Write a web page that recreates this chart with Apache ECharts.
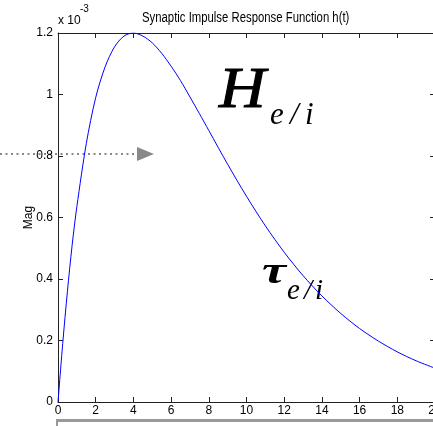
<!DOCTYPE html>
<html><head><meta charset="utf-8">
<script src="https://cdn.jsdelivr.net/npm/echarts@6/dist/echarts.min.js"></script>
<style>html,body{margin:0;padding:0;background:#fff}#c{width:433px;height:426px}</style>
</head><body><div id="c"></div>
<script>
// time (x axis)
const timeValues = [0, 0.25, 0.5, 0.75, 1, 1.5, 2, 2.5, 3, 3.5, 4, 4.5, 5, 5.5, 6, 6.5, 7, 7.5, 8, 9, 10, 11, 12, 13, 14, 15, 16, 17, 18, 19, 20];
// magnitude, in units of 1e-3
const magValues = [0, 0.19, 0.36, 0.51, 0.635, 0.84, 0.99, 1.09, 1.155, 1.19, 1.2, 1.19, 1.168, 1.134, 1.092, 1.045, 0.992, 0.938, 0.883, 0.773, 0.669, 0.573, 0.487, 0.411, 0.345, 0.288, 0.239, 0.198, 0.163, 0.134, 0.11];
const titleText = 'Synaptic Impulse Response Function h(t)';
const yName = 'Mag';

const sans = '"Liberation Sans", Arial, sans-serif';
const serif = '"Liberation Serif", "DejaVu Serif", serif';
const axisCol = '#222';

const chart = echarts.init(document.getElementById('c'), null, {renderer: 'canvas'});
const tickCommon = {show: true, inside: true, length: 5, lineStyle: {color: axisCol, width: 1}};
const lineCommon = {show: true, onZero: false, lineStyle: {color: axisCol, width: 1}};

function txt(x, baseline, size, ch, weight, sx, extra) {
  return {type: 'text', x: x, y: baseline - 0.27 * size, scaleX: sx || 1,
    style: Object.assign({text: ch, font: 'italic ' + (weight || '') + ' ' + size + 'px ' + serif, fill: '#000', textVerticalAlign: 'middle'}, extra || {})};
}

chart.setOption({
  animation: false,
  backgroundColor: '#fff',
  grid: {left: 58, right: -2, top: 33, bottom: 24, containLabel: false, outerBoundsMode: 'none'},
  xAxis: [
    {type: 'value', position: 'bottom', min: 0, max: 20, interval: 2,
     axisLine: lineCommon, axisTick: tickCommon, splitLine: {show: false},
     axisLabel: {margin: 3, fontFamily: sans, fontSize: 12, color: '#000', hideOverlap: false}},
    {type: 'value', position: 'top', min: 0, max: 20, interval: 2,
     axisLine: lineCommon, axisTick: tickCommon, splitLine: {show: false},
     axisLabel: {show: false}}
  ],
  yAxis: [
    {type: 'value', position: 'left', min: 0, max: 1.2, interval: 0.2,
     axisLine: lineCommon, axisTick: tickCommon, splitLine: {show: false},
     name: yName, nameLocation: 'middle', nameRotate: 90, nameGap: 23, nameMoveOverlap: false,
     nameTextStyle: {fontFamily: sans, fontSize: 12, color: '#000'},
     axisLabel: {margin: 5, fontFamily: sans, fontSize: 12, color: '#000',
       formatter: v => String(+v.toFixed(1))}},
    {type: 'value', position: 'right', min: 0, max: 1.2, interval: 0.2,
     axisLine: lineCommon, axisTick: tickCommon, splitLine: {show: false},
     axisLabel: {show: false}}
  ],
  series: [{
    type: 'line', xAxisIndex: 0, yAxisIndex: 0,
    data: timeValues.map((t, i) => [t, magValues[i]]),
    showSymbol: false, smooth: 0.3,
    lineStyle: {color: '#0000ff', width: 1}
  }],
  graphic: [
    {type: 'text', x: 142, y: 11, scaleX: 0.81, style: {text: titleText, font: '14px ' + sans, fill: '#000'}},
    {type: 'text', x: 58, y: 15, style: {text: 'x 10', font: '12px ' + sans, fill: '#000'}},
    {type: 'text', x: 80, y: 4, style: {text: '-3', font: '10px ' + sans, fill: '#000'}},
    txt(219, 107, 56, 'H', '', 1.15, {stroke: '#000', lineWidth: 1}),
    txt(270, 124, 31, 'e'), txt(290, 124, 31, '/'), txt(305, 124, 31, 'i'),
    txt(262, 283, 38, 'τ', 'bold', 1.42),
    txt(287, 299, 29, 'e'), txt(304, 299, 29, '/'), txt(315, 299, 29, 'i'),
    {type: 'line', shape: {x1: 0, y1: 154, x2: 136, y2: 154}, style: {stroke: '#888', lineWidth: 2, lineDash: [2, 3.5]}},
    {type: 'polygon', shape: {points: [[137, 147], [154, 154], [137, 161]]}, style: {fill: '#888'}},
    {type: 'rect', shape: {x: 56, y: 419, width: 380, height: 3}, style: {fill: '#999'}},
    {type: 'rect', shape: {x: 56, y: 419, width: 2, height: 8}, style: {fill: '#999'}}
  ]
});
</script></body></html>
